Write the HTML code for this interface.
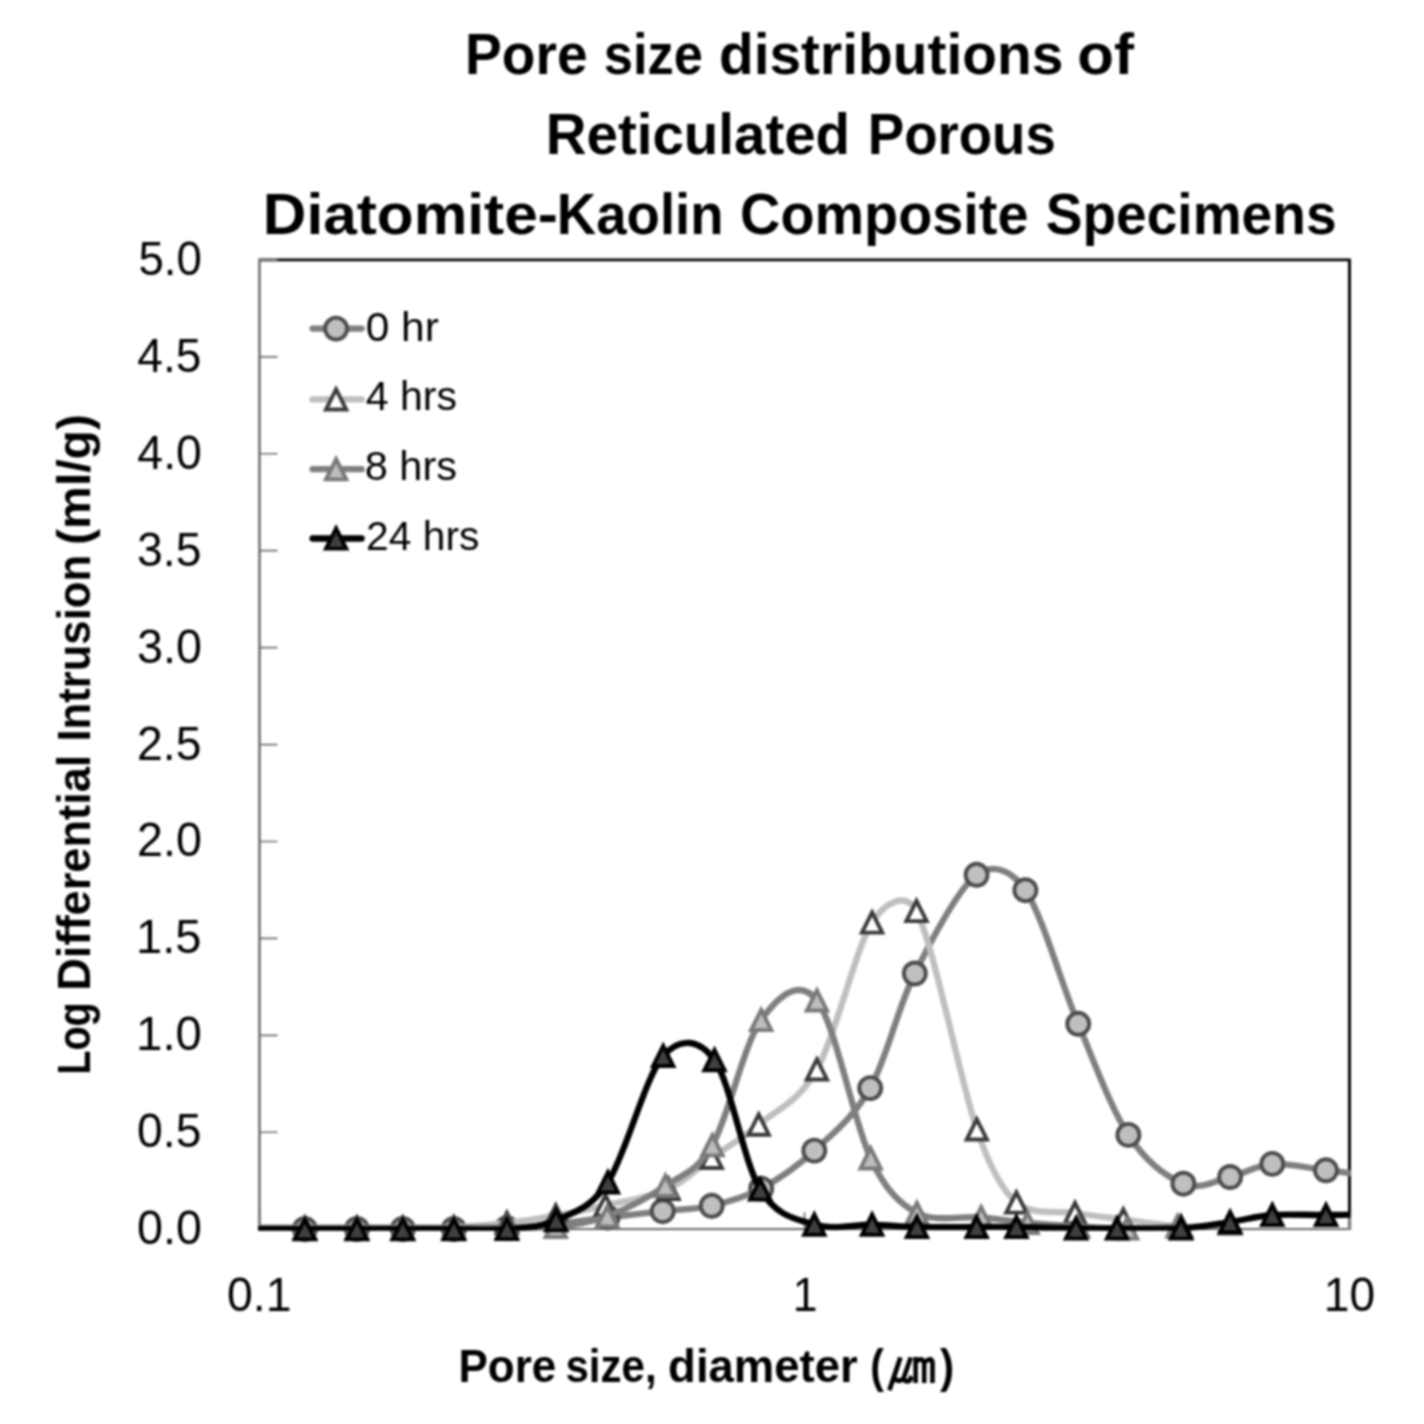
<!DOCTYPE html>
<html lang="en"><head><meta charset="utf-8"><title>Pore size distributions</title>
<style>html,body{margin:0;padding:0;background:#fff}svg{display:block}text{font-family:"Liberation Sans",sans-serif;fill:#000}svg{filter:blur(1px)}</style></head>
<body>
<svg width="1424" height="1424" viewBox="0 0 1424 1424">
<rect width="1424" height="1424" fill="#fff"/>
<defs><clipPath id="pc"><rect x="258" y="258.6" width="1092.6" height="972.2"/></clipPath></defs>
<g fill="none" stroke="#000" stroke-width="2.9"><path d="M259.5 259.9H1349.5V1229.2"/></g>
<g fill="none" stroke="#6e6e6e"><path stroke="#5c5c5c" stroke-width="2.3" d="M259.5 258.7V1230"/><path stroke="#555" stroke-width="1.7" d="M259.5 1229.2H1350.7"/><path stroke-width="1.7" d="M259.5 259.9H277.5M259.5 356.83H277.5M259.5 453.76H277.5M259.5 550.69H277.5M259.5 647.62H277.5M259.5 744.55H277.5M259.5 841.48H277.5M259.5 938.41H277.5M259.5 1035.34H277.5M259.5 1132.27H277.5M259.5 1229.2H277.5"/><path stroke-width="1.7" d="M259.5 1229.2V1212.2M804.5 1229.2V1212.2M1349.5 1229.2V1212.2"/></g>
<path d="M1349.5 1212.2V1230" stroke="#7a7a7a" stroke-width="3.3" fill="none"/>
<path d="M258.4 259.9H276.5" stroke="#7a7a7a" stroke-width="3.3" fill="none"/>
<g stroke-linejoin="miter" stroke-miterlimit="10">
<path clip-path="url(#pc)" d="M250 1229C259.15 1229 287.08 1229 304.9 1229C322.72 1229 340.58 1229 356.9 1229C373.22 1229 386.65 1229 402.8 1229C418.95 1229 436.45 1229.13 453.8 1229C471.15 1228.87 489.9 1229.03 506.9 1228.2C523.9 1227.37 539.03 1225.78 555.8 1224C572.57 1222.22 589.68 1219.63 607.5 1217.5C625.32 1215.37 645.33 1213.15 662.7 1211.2C680.07 1209.25 695.28 1209.57 711.7 1205.8C728.12 1202.03 744.1 1197.8 761.2 1188.6C778.3 1179.4 796.13 1167.35 814.3 1150.6C832.47 1133.85 853.45 1117.62 870.2 1088.1C886.95 1058.58 897.07 1009.05 914.8 973.5C932.53 937.95 958.17 888.68 976.6 874.8C992.29 862.98 1010.99 869.06 1025.4 890.2C1042.33 915.03 1061.03 983.02 1078.2 1023.8C1095.37 1064.58 1110.87 1108.25 1128.4 1134.9C1145.93 1161.55 1166.45 1176.68 1183.4 1183.7C1200.35 1190.72 1215.28 1180.3 1230.1 1177C1244.92 1173.7 1256.32 1165.02 1272.3 1163.9C1288.28 1162.78 1308.88 1168.28 1326 1170.3C1343.12 1172.32 1366.83 1175.05 1375 1176" fill="none" stroke="#7f7f7f" stroke-width="6.3" stroke-linecap="round" stroke-linejoin="round"/>
<g stroke-width="3.9"><circle cx="304.9" cy="1229" r="11" fill="#bfbfbf" stroke="#4c4c4c"/><circle cx="356.9" cy="1229" r="11" fill="#bfbfbf" stroke="#4c4c4c"/><circle cx="402.8" cy="1229" r="11" fill="#bfbfbf" stroke="#4c4c4c"/><circle cx="453.8" cy="1229" r="11" fill="#bfbfbf" stroke="#4c4c4c"/><circle cx="506.9" cy="1228.2" r="11" fill="#bfbfbf" stroke="#4c4c4c"/><circle cx="555.8" cy="1224" r="11" fill="#bfbfbf" stroke="#4c4c4c"/><circle cx="607.5" cy="1217.5" r="11" fill="#bfbfbf" stroke="#4c4c4c"/><circle cx="662.7" cy="1211.2" r="11" fill="#bfbfbf" stroke="#4c4c4c"/><circle cx="711.7" cy="1205.8" r="11" fill="#bfbfbf" stroke="#4c4c4c"/><circle cx="761.2" cy="1188.6" r="11" fill="#bfbfbf" stroke="#4c4c4c"/><circle cx="814.3" cy="1150.6" r="11" fill="#bfbfbf" stroke="#4c4c4c"/><circle cx="870.2" cy="1088.1" r="11" fill="#bfbfbf" stroke="#4c4c4c"/><circle cx="914.8" cy="973.5" r="11" fill="#bfbfbf" stroke="#4c4c4c"/><circle cx="976.6" cy="874.8" r="11" fill="#bfbfbf" stroke="#4c4c4c"/><circle cx="1025.4" cy="890.2" r="11" fill="#bfbfbf" stroke="#4c4c4c"/><circle cx="1078.2" cy="1023.8" r="11" fill="#bfbfbf" stroke="#4c4c4c"/><circle cx="1128.4" cy="1134.9" r="11" fill="#bfbfbf" stroke="#4c4c4c"/><circle cx="1183.4" cy="1183.7" r="11" fill="#bfbfbf" stroke="#4c4c4c"/><circle cx="1230.1" cy="1177" r="11" fill="#bfbfbf" stroke="#4c4c4c"/><circle cx="1272.3" cy="1163.9" r="11" fill="#bfbfbf" stroke="#4c4c4c"/><circle cx="1326" cy="1170.3" r="11" fill="#bfbfbf" stroke="#4c4c4c"/></g>
<path clip-path="url(#pc)" d="M250 1229C259.15 1229 287.08 1229 304.9 1229C322.72 1229 340.58 1229 356.9 1229C373.22 1229 386.65 1229.25 402.8 1229C418.95 1228.75 436.45 1228.52 453.8 1227.5C471.15 1226.48 489.9 1224.88 506.9 1222.9C523.9 1220.92 539.37 1218.5 555.8 1215.6C572.23 1212.7 586.72 1209.93 605.5 1205.5C624.28 1201.07 650.8 1196.95 668.5 1189C686.2 1181.05 696.67 1168.53 711.7 1157.8C726.73 1147.07 741.17 1139.33 758.7 1124.6C776.23 1109.87 798 1103.08 816.9 1069.4C835.8 1035.72 855.5 948.9 872.1 922.5C884.31 903.09 906.15 890.54 916.5 911C933.95 945.48 960.15 1080.82 976.8 1129.4C990.28 1168.72 1003.15 1191.22 1016.4 1202.5C1032.77 1216.43 1057.18 1210.18 1075 1213C1092.82 1215.82 1105.63 1217.15 1123.3 1219.4C1140.97 1221.65 1163.2 1225.82 1181 1226.5C1198.8 1227.18 1221.92 1224 1230.1 1223.5" fill="none" stroke="#bfbfbf" stroke-width="6.3" stroke-linecap="round" stroke-linejoin="round"/>
<g stroke-width="3.9"><path d="M304.9 1218.85L315.05 1239.15L294.75 1239.15Z" fill="#ffffff" stroke="#3a3a3a"/><path d="M356.9 1218.85L367.05 1239.15L346.75 1239.15Z" fill="#ffffff" stroke="#3a3a3a"/><path d="M402.8 1218.85L412.95 1239.15L392.65 1239.15Z" fill="#ffffff" stroke="#3a3a3a"/><path d="M453.8 1217.35L463.95 1237.65L443.65 1237.65Z" fill="#ffffff" stroke="#3a3a3a"/><path d="M506.9 1212.75L517.05 1233.05L496.75 1233.05Z" fill="#ffffff" stroke="#3a3a3a"/><path d="M555.8 1205.45L565.95 1225.75L545.65 1225.75Z" fill="#ffffff" stroke="#3a3a3a"/><path d="M605.5 1195.35L615.65 1215.65L595.35 1215.65Z" fill="#ffffff" stroke="#3a3a3a"/><path d="M668.5 1178.85L678.65 1199.15L658.35 1199.15Z" fill="#ffffff" stroke="#3a3a3a"/><path d="M711.7 1147.65L721.85 1167.95L701.55 1167.95Z" fill="#ffffff" stroke="#3a3a3a"/><path d="M758.7 1114.45L768.85 1134.75L748.55 1134.75Z" fill="#ffffff" stroke="#3a3a3a"/><path d="M816.9 1059.25L827.05 1079.55L806.75 1079.55Z" fill="#ffffff" stroke="#3a3a3a"/><path d="M872.1 912.35L882.25 932.65L861.95 932.65Z" fill="#ffffff" stroke="#3a3a3a"/><path d="M916.5 900.85L926.65 921.15L906.35 921.15Z" fill="#ffffff" stroke="#3a3a3a"/><path d="M976.8 1119.25L986.95 1139.55L966.65 1139.55Z" fill="#ffffff" stroke="#3a3a3a"/><path d="M1016.4 1192.35L1026.55 1212.65L1006.25 1212.65Z" fill="#ffffff" stroke="#3a3a3a"/><path d="M1075 1202.85L1085.15 1223.15L1064.85 1223.15Z" fill="#ffffff" stroke="#3a3a3a"/><path d="M1123.3 1209.25L1133.45 1229.55L1113.15 1229.55Z" fill="#ffffff" stroke="#3a3a3a"/><path d="M1181 1216.35L1191.15 1236.65L1170.85 1236.65Z" fill="#ffffff" stroke="#3a3a3a"/><path d="M1230.1 1213.35L1240.25 1233.65L1219.95 1233.65Z" fill="#ffffff" stroke="#3a3a3a"/></g>
<path clip-path="url(#pc)" d="M250 1227.6C259.15 1227.6 287.08 1227.6 304.9 1227.6C322.72 1227.6 340.58 1227.6 356.9 1227.6C373.22 1227.6 386.65 1227.6 402.8 1227.6C418.95 1227.6 436.45 1227.63 453.8 1227.6C471.15 1227.57 489.9 1227.52 506.9 1227.4C523.9 1227.28 539.07 1228.77 555.8 1226.9C572.53 1225.03 589.03 1223.05 607.3 1216.2C625.57 1209.35 647.88 1197.63 665.4 1185.8C682.44 1174.29 696.86 1172.09 712.4 1145.2C728.37 1117.57 743.78 1044.13 761.2 1020C778.48 996.06 798.81 977.53 816.9 1000.4C835.13 1023.45 853.93 1122.87 870.6 1158.3C885.85 1190.72 900.03 1204 916.9 1213C935.33 1222.83 962.77 1215.63 981.2 1217.3C999.63 1218.97 1011.37 1221.47 1027.5 1223C1043.63 1224.53 1061.42 1225.58 1078 1226.5C1094.58 1227.42 1110.42 1228.53 1127 1228.5C1143.58 1228.47 1169.08 1226.67 1177.5 1226.3" fill="none" stroke="#7f7f7f" stroke-width="6.3" stroke-linecap="round" stroke-linejoin="round"/>
<g stroke-width="3.9"><path d="M304.9 1217.45L315.05 1237.75L294.75 1237.75Z" fill="#bdbdbd" stroke="#797979"/><path d="M356.9 1217.45L367.05 1237.75L346.75 1237.75Z" fill="#bdbdbd" stroke="#797979"/><path d="M402.8 1217.45L412.95 1237.75L392.65 1237.75Z" fill="#bdbdbd" stroke="#797979"/><path d="M453.8 1217.45L463.95 1237.75L443.65 1237.75Z" fill="#bdbdbd" stroke="#797979"/><path d="M506.9 1217.25L517.05 1237.55L496.75 1237.55Z" fill="#bdbdbd" stroke="#797979"/><path d="M555.8 1216.75L565.95 1237.05L545.65 1237.05Z" fill="#bdbdbd" stroke="#797979"/><path d="M607.3 1206.05L617.45 1226.35L597.15 1226.35Z" fill="#bdbdbd" stroke="#797979"/><path d="M665.4 1175.65L675.55 1195.95L655.25 1195.95Z" fill="#bdbdbd" stroke="#797979"/><path d="M712.4 1135.05L722.55 1155.35L702.25 1155.35Z" fill="#bdbdbd" stroke="#797979"/><path d="M761.2 1009.85L771.35 1030.15L751.05 1030.15Z" fill="#bdbdbd" stroke="#797979"/><path d="M816.9 990.25L827.05 1010.55L806.75 1010.55Z" fill="#bdbdbd" stroke="#797979"/><path d="M870.6 1148.15L880.75 1168.45L860.45 1168.45Z" fill="#bdbdbd" stroke="#797979"/><path d="M916.9 1202.85L927.05 1223.15L906.75 1223.15Z" fill="#bdbdbd" stroke="#797979"/><path d="M981.2 1207.15L991.35 1227.45L971.05 1227.45Z" fill="#bdbdbd" stroke="#797979"/><path d="M1027.5 1212.85L1037.65 1233.15L1017.35 1233.15Z" fill="#bdbdbd" stroke="#797979"/><path d="M1078 1216.35L1088.15 1236.65L1067.85 1236.65Z" fill="#bdbdbd" stroke="#797979"/><path d="M1127 1218.35L1137.15 1238.65L1116.85 1238.65Z" fill="#bdbdbd" stroke="#797979"/><path d="M1177.5 1216.15L1187.65 1236.45L1167.35 1236.45Z" fill="#bdbdbd" stroke="#797979"/></g>
<path clip-path="url(#pc)" d="M250 1229.2C259.15 1229.2 287.08 1229.2 304.9 1229.2C322.72 1229.2 340.58 1229.2 356.9 1229.2C373.22 1229.2 386.65 1229.2 402.8 1229.2C418.95 1229.2 436.45 1229.23 453.8 1229.2C471.15 1229.17 489.83 1230.5 506.9 1229C523.97 1227.5 539.37 1227.98 556.2 1220.2C572.71 1212.57 590.41 1209.16 607.9 1182.3C625.73 1154.92 645.43 1076.27 663.2 1055.9C680.12 1036.51 699.38 1039.27 714.5 1060.1C730.67 1082.37 743.57 1162.08 760.2 1189.5C776.83 1216.92 795.65 1218.75 814.3 1224.6C832.95 1230.45 855 1224.2 872.1 1224.6C889.2 1225 899.48 1226.6 916.9 1227C934.32 1227.4 960.02 1227 976.6 1227C993.18 1227 999.83 1226.75 1016.4 1227C1032.97 1227.25 1059.23 1228.25 1076 1228.5C1092.77 1228.75 1099.5 1228.5 1117 1228.5C1134.5 1228.5 1162.15 1229.58 1181 1228.5C1199.85 1227.42 1214.88 1224.25 1230.1 1222C1245.32 1219.75 1256.32 1216.17 1272.3 1215C1288.28 1213.83 1308.88 1215.17 1326 1215C1343.12 1214.83 1366.83 1214.17 1375 1214" fill="none" stroke="#000000" stroke-width="6.3" stroke-linecap="round" stroke-linejoin="round"/>
<g stroke-width="3.9"><path d="M304.9 1219.05L315.05 1239.35L294.75 1239.35Z" fill="#404040" stroke="#000000"/><path d="M356.9 1219.05L367.05 1239.35L346.75 1239.35Z" fill="#404040" stroke="#000000"/><path d="M402.8 1219.05L412.95 1239.35L392.65 1239.35Z" fill="#404040" stroke="#000000"/><path d="M453.8 1219.05L463.95 1239.35L443.65 1239.35Z" fill="#404040" stroke="#000000"/><path d="M506.9 1218.85L517.05 1239.15L496.75 1239.15Z" fill="#404040" stroke="#000000"/><path d="M556.2 1210.05L566.35 1230.35L546.05 1230.35Z" fill="#404040" stroke="#000000"/><path d="M607.9 1172.15L618.05 1192.45L597.75 1192.45Z" fill="#404040" stroke="#000000"/><path d="M663.2 1045.75L673.35 1066.05L653.05 1066.05Z" fill="#404040" stroke="#000000"/><path d="M714.5 1049.95L724.65 1070.25L704.35 1070.25Z" fill="#404040" stroke="#000000"/><path d="M760.2 1179.35L770.35 1199.65L750.05 1199.65Z" fill="#404040" stroke="#000000"/><path d="M814.3 1214.45L824.45 1234.75L804.15 1234.75Z" fill="#404040" stroke="#000000"/><path d="M872.1 1214.45L882.25 1234.75L861.95 1234.75Z" fill="#404040" stroke="#000000"/><path d="M916.9 1216.85L927.05 1237.15L906.75 1237.15Z" fill="#404040" stroke="#000000"/><path d="M976.6 1216.85L986.75 1237.15L966.45 1237.15Z" fill="#404040" stroke="#000000"/><path d="M1016.4 1216.85L1026.55 1237.15L1006.25 1237.15Z" fill="#404040" stroke="#000000"/><path d="M1076 1218.35L1086.15 1238.65L1065.85 1238.65Z" fill="#404040" stroke="#000000"/><path d="M1117 1218.35L1127.15 1238.65L1106.85 1238.65Z" fill="#404040" stroke="#000000"/><path d="M1181 1218.35L1191.15 1238.65L1170.85 1238.65Z" fill="#404040" stroke="#000000"/><path d="M1230.1 1211.85L1240.25 1232.15L1219.95 1232.15Z" fill="#404040" stroke="#000000"/><path d="M1272.3 1204.85L1282.45 1225.15L1262.15 1225.15Z" fill="#404040" stroke="#000000"/><path d="M1326 1204.85L1336.15 1225.15L1315.85 1225.15Z" fill="#404040" stroke="#000000"/></g>
</g>
<g stroke-miterlimit="10">
<path d="M312.6 328.6H361.6" stroke="#7f7f7f" stroke-width="6.3" stroke-linecap="round" fill="none"/><g stroke-width="3.9"><circle cx="336.1" cy="328.6" r="11" fill="#bfbfbf" stroke="#4c4c4c"/></g>
<path d="M312.6 399.4H361.6" stroke="#bfbfbf" stroke-width="6.3" stroke-linecap="round" fill="none"/><g stroke-width="3.9"><path d="M336.1 389.25L346.25 409.55L325.95 409.55Z" fill="#ffffff" stroke="#3a3a3a"/></g>
<path d="M312.6 469.2H361.6" stroke="#7f7f7f" stroke-width="6.3" stroke-linecap="round" fill="none"/><g stroke-width="3.9"><path d="M336.1 459.05L346.25 479.35L325.95 479.35Z" fill="#bdbdbd" stroke="#797979"/></g>
<path d="M312.6 538.5H361.6" stroke="#000000" stroke-width="6.3" stroke-linecap="round" fill="none"/><g stroke-width="3.9"><path d="M336.1 528.35L346.25 548.65L325.95 548.65Z" fill="#404040" stroke="#000000"/></g>
</g>
<text transform="translate(465.07 74) scale(0.9752 1)" font-size="56.5" font-weight="bold">Pore</text>
<text transform="translate(603.85 74) scale(0.9272 1)" font-size="56.5" font-weight="bold">size</text>
<text transform="translate(718.89 74) scale(1.0068 1)" font-size="56.5" font-weight="bold">distributions</text>
<text transform="translate(1077.37 74) scale(1.0635 1)" font-size="56.5" font-weight="bold">of</text>
<text transform="translate(545.7 153.6) scale(0.9997 1)" font-size="56.5" font-weight="bold">Reticulated</text>
<text transform="translate(867.7 153.6) scale(0.9668 1)" font-size="56.5" font-weight="bold">Porous</text>
<text transform="translate(262.8 234) scale(1.0683 1)" font-size="56.5" font-weight="bold">Diatomite-</text>
<text transform="translate(556.8 234) scale(0.9665 1)" font-size="56.5" font-weight="bold">Kaolin</text>
<text transform="translate(740.12 234) scale(0.9878 1)" font-size="56.5" font-weight="bold">Composite</text>
<text transform="translate(1045.75 234) scale(0.9748 1)" font-size="56.5" font-weight="bold">Specimens</text>
<text class="r" transform="translate(138.51 274.9) scale(0.9438 1)" font-size="48.3" font-weight="normal">5.0</text>
<text class="r" transform="translate(137.35 371.82) scale(0.9547 1)" font-size="48.3" font-weight="normal">4.5</text>
<text class="r" transform="translate(137.34 468.74) scale(0.9615 1)" font-size="48.3" font-weight="normal">4.0</text>
<text class="r" transform="translate(137.08 565.66) scale(0.9587 1)" font-size="48.3" font-weight="normal">3.5</text>
<text class="r" transform="translate(137.07 662.58) scale(0.9656 1)" font-size="48.3" font-weight="normal">3.0</text>
<text class="r" transform="translate(137.08 759.5) scale(0.9587 1)" font-size="48.3" font-weight="normal">2.5</text>
<text class="r" transform="translate(137.07 856.42) scale(0.9656 1)" font-size="48.3" font-weight="normal">2.0</text>
<text class="r" transform="translate(136.08 953.34) scale(0.9742 1)" font-size="48.3" font-weight="normal">1.5</text>
<text class="r" transform="translate(136.06 1050.26) scale(0.9810 1)" font-size="48.3" font-weight="normal">1.0</text>
<text class="r" transform="translate(137.08 1147.18) scale(0.9587 1)" font-size="48.3" font-weight="normal">0.5</text>
<text class="r" transform="translate(137.07 1244.1) scale(0.9656 1)" font-size="48.3" font-weight="normal">0.0</text>
<text class="r" transform="translate(227.08 1310.9) scale(0.9603 1)" font-size="48.3" font-weight="normal">0.1</text>
<text class="r" transform="translate(792.73 1310.9) scale(0.9227 1)" font-size="48.3" font-weight="normal">1</text>
<text class="r" transform="translate(1323.83 1310.9) scale(0.9551 1)" font-size="48.3" font-weight="normal">10</text>
<text transform="translate(458.52 1381.7) scale(0.9598 1)" font-size="45.8" font-weight="bold">Pore</text>
<text transform="translate(565.46 1381.7) scale(0.9179 1)" font-size="45.8" font-weight="bold">size,</text>
<text transform="translate(668.11 1381.7) scale(0.9937 1)" font-size="45.8" font-weight="bold">diameter</text>
<text transform="translate(870.32 1381.7) scale(0.8923 1)" font-size="45.8" font-weight="bold">(</text>
<text transform="translate(886.14 1381.7) scale(0.8818 1)" font-size="57.25" font-weight="bold" font-family='"Liberation Sans","Noto Sans CJK KR",sans-serif'>㎛</text>
<text transform="translate(940.1 1381.7) scale(0.9308 1)" font-size="45.8" font-weight="bold">)</text>
<text transform="translate(90.4 1074.79) rotate(-90) scale(0.8641 1)" font-size="45.8" font-weight="bold">Log</text>
<text transform="translate(90.4 990.86) rotate(-90) scale(0.9880 1)" font-size="45.8" font-weight="bold">Differential</text>
<text transform="translate(90.4 741.56) rotate(-90) scale(0.9529 1)" font-size="45.8" font-weight="bold">Intrusion</text>
<text transform="translate(90.4 544.9) rotate(-90) scale(1.0504 1)" font-size="45.8" font-weight="bold">(ml/g)</text>
<text class="r" transform="translate(365.66 340.9) scale(1.0362 1)" font-size="41" font-weight="normal">0 hr</text>
<text class="r" transform="translate(365.7 410.4) scale(1.0022 1)" font-size="41" font-weight="normal">4 hrs</text>
<text class="r" transform="translate(364.67 480.2) scale(1.0136 1)" font-size="41" font-weight="normal">8 hrs</text>
<text class="r" transform="translate(366.11 550.1) scale(0.9937 1)" font-size="41" font-weight="normal">24 hrs</text>
</svg>
</body></html>
